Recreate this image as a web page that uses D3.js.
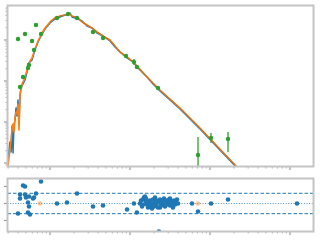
<!DOCTYPE html>
<html><head><meta charset="utf-8">
<script src="https://cdn.jsdelivr.net/npm/d3@7"></script>
<style>body{margin:0;background:#fff}svg{display:block}</style>
</head><body><svg id="c" width="320" height="240"></svg>
<script>
// ---- data ----
const wave = [0.299,0.307,0.316,0.326,0.335,0.345,0.355,0.365,0.376,0.387,0.398,0.410,0.422,0.434,0.447,
  0.473,0.487,0.516,0.531,0.562,0.596,0.649,0.708,0.794,0.866,
  1.0,1.155,1.334,1.540,1.679,1.778,1.884,2.054,2.239,2.512,
  2.904,3.350,3.868,4.597,5.623,6.494,7.499,9.173,10.9,12.6,
  16.3,19.4,23.7,42.2,75.0,133,218];
const dataFlux = [1.18,2.08,3.25,1.85,7.98,1.75,8.45,11.2,21.9,14.0,34.4,8.93,43.1,67.5,75.5,
  94.6,106,166,260,291,325,570,894,1400,1854,
  2600,3250,3640,4074,4074,4560,3640,3443,3250,2904,
  2193,1963,1482,1253,945,675,510,364,291,207,
  125,84.5,57.0,20.7,6.75,2.08,0.755];
const modelFlux = [0.845,1.32,2.08,3.64,7.14,8.93,5.70,12.5,17.5,15.7,27.5,6.38,48.2,60.3,84.5,
  106,125,185,246,307,364,603,945,1482,1963,
  2748,3443,3848,4074,4307,4307,3848,3640,3443,2748,
  2323,1963,1567,1253,1000,714,510,385,291,219,
  125,89.4,60.3,21.9,7.14,2.19,0.799];

const photX  = [0.398,0.487,0.596,0.668,0.772,0.631,0.546,0.531,0.460,0.422,1.223,1.679,2.175,3.447,4.597,8.913,11.2,12.2,22.4,70.8,103,168];
const photY  = [1057,1400,945,2323,1400,570,246,207,125,71.4,3443,4307,3443,1567,1119,407,291,219,67.5,1.57,4.07,3.85];
const photLo = [1000,1330,900,2200,1330,540,230,195,117,67,3300,4150,3300,1500,1070,385,245,205,63,0.3,3.07,1.85];
const photHi = [1110,1470,990,2450,1470,600,262,220,133,76,3600,4470,3600,1640,1170,430,345,233,72,4.31,5.39,5.70];

const resX = [0.398,0.460,0.487,0.422,0.422,0.487,0.501,0.531,0.546,0.613,0.631,0.668,0.546,0.531,0.562,0.772,
  1.223,1.631,2.175,3.447,4.597,9.173,11.2,12.2,23.0,59.6,70.8,103,168,1223];
const resY = [-2.94,5.29,5.0,2.65,1.47,2.65,1.76,0.29,2.06,1.47,1.76,2.94,-0.88,-2.65,-3.24,6.47,
  0,0.29,2.94,-0.88,-0.59,-1.76,0,-2.65,-8.24,0,-2.35,0,1.18,0];
const clusterX = [13.34,13.73,14.13,14.54,14.96,15.40,15.85,16.31,16.79,17.28,17.78,18.30,18.84,19.39,19.95,20.54,21.13,21.75,22.39,23.04,
  23.71,24.40,25.12,25.85,26.61,27.38,28.18,29.00,29.85,30.72,31.62,32.54,33.50,34.47,35.48,36.52,37.58,38.68,39.81,
  15.85,17.78,20.54,23.71,27.38,31.62,14.54,18.84];
const clusterY = [0,0.88,-0.88,1.18,1.76,2.06,0.59,-0.29,-1.18,0.29,0.88,-0.59,0,1.18,-0.88,0.59,-0.29,0.88,-1.18,0.29,
  1.18,-0.59,0.59,0,1.47,-0.88,0.88,-0.29,0.29,1.18,-0.59,0.59,0,-1.18,0.88,-0.29,0.29,1.18,0,
  1.47,-0.88,1.76,-1.18,0,1.47,-0.29,-1.47];
const resOrangeX = [0.750, 70.8];
const resOrangeY = [0, 0];
const resTicks = [-5, 0, 5];
const resBands = [-3, 3];

// ---- layout ----
const svg = d3.select('#c');
const L = 7.5, R = 313.5, T1 = 5.5, B1 = 166.5, T2 = 178.5, B2 = 231.5;
const x  = d3.scaleLog().domain([0.2943, 1967]).range([L, R]);
const y  = d3.scaleLog().domain([0.821, 6940]).range([B1, T1]);
const yr = d3.scaleLinear().domain([-8.24, 7.35]).range([B2, T2]);

const defs = svg.append('defs');
defs.append('clipPath').attr('id','c1').append('rect').attr('x',L).attr('y',T1).attr('width',R-L).attr('height',B1-T1);
defs.append('clipPath').attr('id','c2').append('rect').attr('x',L).attr('y',T2-3).attr('width',R-L).attr('height',B2-T2+3);

// ---- top panel ----
const g1 = svg.append('g').attr('clip-path','url(#c1)');
const idx = d3.range(wave.length);
const lineD = d3.line().x(i => x(wave[i])).y(i => y(dataFlux[i]));
const lineM = d3.line().x(i => x(wave[i])).y(i => y(modelFlux[i]));
g1.append('path').attr('d', lineD(idx)).attr('fill','none').attr('stroke','#1f77b4').attr('stroke-width',1.5).attr('stroke-linejoin','round');
g1.append('path').attr('d', lineM(idx)).attr('fill','none').attr('stroke','#ff7f0e').attr('stroke-width',1.6).attr('stroke-linejoin','round');
g1.append('path').attr('d', lineM(idx.filter(i => wave[i] >= 1))).attr('fill','none').attr('stroke','#555').attr('stroke-width',0.5).attr('opacity',0.7);

const pidx = d3.range(photX.length);
g1.selectAll('line.err').data(pidx).join('line')
  .attr('x1', i => x(photX[i])).attr('x2', i => x(photX[i]))
  .attr('y1', i => y(photLo[i])).attr('y2', i => y(photHi[i]))
  .attr('stroke','#2ca02c').attr('stroke-width',1.3);
g1.selectAll('circle.ph').data(pidx).join('circle')
  .attr('cx', i => x(photX[i])).attr('cy', i => y(photY[i])).attr('r',2.2)
  .attr('fill','#2ca02c');

// ---- bottom panel ----
const g2 = svg.append('g').attr('clip-path','url(#c2)');
resBands.forEach(v => g2.append('line').attr('x1',L).attr('x2',R).attr('y1',yr(v)).attr('y2',yr(v))
  .attr('stroke','#1f77b4').attr('stroke-width',1).attr('stroke-dasharray','3.5,2'));
g2.append('line').attr('x1',L).attr('x2',R).attr('y1',yr(0)).attr('y2',yr(0))
  .attr('stroke','#1f77b4').attr('stroke-width',1).attr('stroke-dasharray','1,1.6').attr('opacity',0.8);
const allRX = resX.concat(clusterX), allRY = resY.concat(clusterY);
g2.selectAll('circle.r').data(d3.range(allRX.length)).join('circle')
  .attr('cx', i => x(allRX[i])).attr('cy', i => yr(allRY[i])).attr('r',2.3).attr('fill','#1f77b4');
g2.selectAll('circle.o').data(d3.range(resOrangeX.length)).join('circle')
  .attr('cx', i => x(resOrangeX[i])).attr('cy', i => yr(resOrangeY[i])).attr('r',2.3).attr('fill','#ff7f0e').attr('opacity',0.45);

// ---- ticks & spines ----
const tickCol = '#9a9a9a';
const isMajor = t => Math.abs(Math.log10(t) - Math.round(Math.log10(t))) < 1e-6;
const xt = x.ticks();
[B1, B2].forEach(b => {
  xt.forEach(t => {
    const m = isMajor(t);
    svg.append('line').attr('x1', x(t)).attr('x2', x(t)).attr('y1', b).attr('y2', b + (m ? 3.5 : 2))
      .attr('stroke', tickCol).attr('stroke-width', m ? 1.2 : 0.8);
  });
});
y.ticks().forEach(t => {
  const m = isMajor(t);
  svg.append('line').attr('x1', L).attr('x2', L - (m ? 3.5 : 2)).attr('y1', y(t)).attr('y2', y(t))
    .attr('stroke', tickCol).attr('stroke-width', m ? 1.2 : 0.8);
});
resTicks.forEach(t => svg.append('line').attr('x1', L).attr('x2', L - 3.5).attr('y1', yr(t)).attr('y2', yr(t))
  .attr('stroke', tickCol).attr('stroke-width', 1.2));

[[T1,B1],[T2,B2]].forEach(([t,b]) => svg.append('rect').attr('x',L).attr('y',t).attr('width',R-L).attr('height',b-t)
  .attr('fill','none').attr('stroke','#c4c4c4').attr('stroke-width',2));
</script></body></html>
